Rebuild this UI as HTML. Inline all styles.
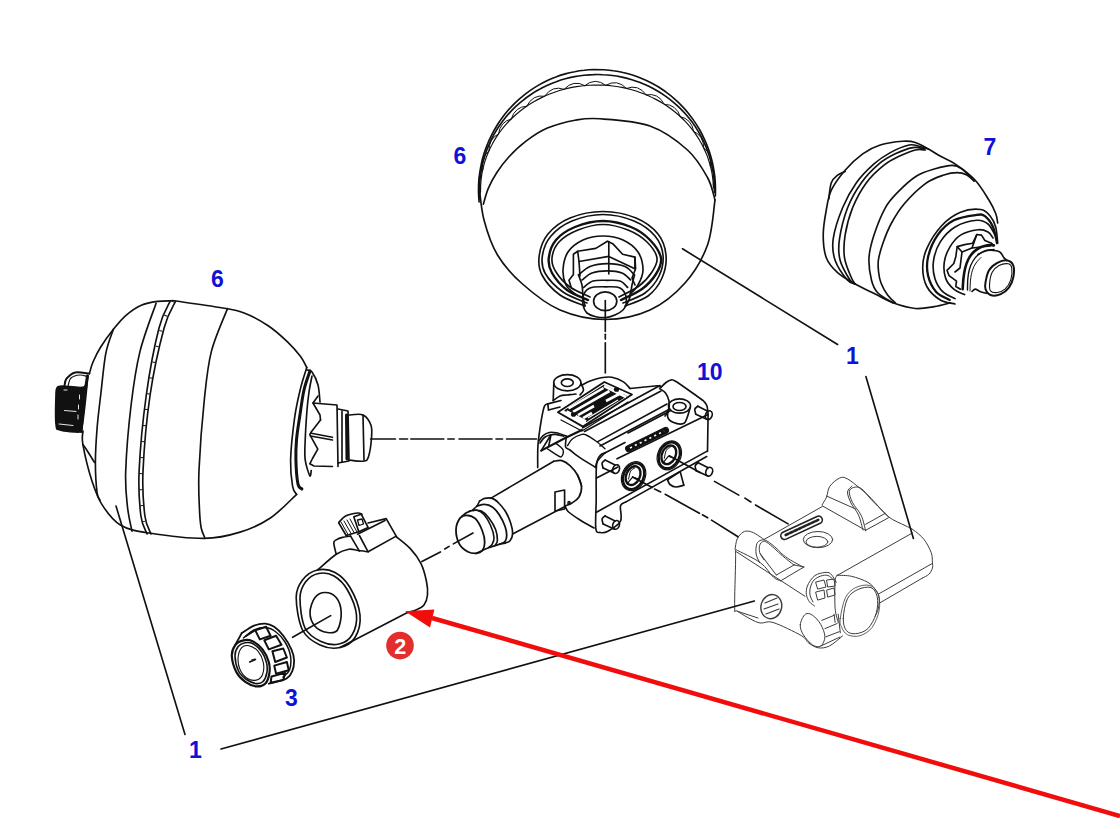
<!DOCTYPE html>
<html><head><meta charset="utf-8"><style>
html,body{margin:0;padding:0;background:#fff;}
body{width:1120px;height:829px;overflow:hidden;position:relative;}
svg{position:absolute;left:0;top:0;}
.lbl{font-family:"Liberation Sans",sans-serif;font-weight:bold;fill:#1010d6;font-size:23px;}
</style></head><body>
<svg width="1120" height="829" viewBox="0 0 1120 829">
<g fill="none" stroke="#111" stroke-width="1.65" stroke-linecap="round" stroke-linejoin="round">
<path d="M715.4 196C715.4 194.4 715.5 189.4 715.4 186.1C715.3 182.8 715.1 179.5 714.7 176.2C714.4 172.9 713.8 169.7 713.2 166.4C712.6 163.2 711.8 160 710.9 156.8C710 153.6 709 150.5 707.8 147.4C706.7 144.3 705.4 141.2 704 138.3C702.6 135.3 701.1 132.4 699.5 129.5C697.8 126.6 696.1 123.8 694.2 121.1C692.4 118.4 690.4 115.8 688.3 113.2C686.3 110.7 684.1 108.2 681.8 105.9C679.6 103.5 677.2 101.2 674.7 99.1C672.3 96.9 669.7 94.8 667.1 92.9C664.5 90.9 661.8 89.1 659 87.3C656.3 85.6 653.4 84 650.5 82.5C647.6 81 644.7 79.6 641.7 78.4C638.7 77.1 635.6 76 632.5 75C629.4 74 626.2 73.2 623.1 72.5C619.9 71.7 616.7 71.1 613.5 70.7C610.3 70.2 607 69.9 603.8 69.7C600.5 69.5 597.3 69.5 594 69.5C590.8 69.6 587.5 69.8 584.3 70.2C581.1 70.5 577.9 71 574.7 71.7C571.5 72.3 568.3 73 565.2 73.9C562.1 74.8 558.9 75.8 555.9 77C552.9 78.1 549.8 79.4 546.9 80.8C544 82.2 541.1 83.7 538.2 85.4C535.4 87 532.7 88.8 530 90.6C527.3 92.5 524.7 94.5 522.2 96.6C519.7 98.6 517.2 100.8 514.9 103.1C512.5 105.4 510.3 107.8 508.1 110.3C506 112.8 503.9 115.3 502 118C500.1 120.6 498.2 123.4 496.5 126.2C494.8 129 493.2 131.8 491.7 134.8C490.2 137.7 488.8 140.7 487.6 143.8C486.3 146.8 485.2 149.9 484.2 153.1C483.2 156.2 482.3 159.4 481.6 162.6C480.9 165.8 480.3 169.1 479.8 172.4C479.3 175.6 479 178.9 478.7 182.2C478.5 185.5 478.5 188.8 478.5 192.1C478.6 195.4 479 200.4 479.1 202" fill="none"/>
<path d="M714.5 192.3C714.4 190.8 714.5 186.1 714.3 183C714.1 179.8 713.8 176.7 713.3 173.6C712.9 170.6 712.3 167.5 711.6 164.4C710.9 161.4 710.1 158.4 709.1 155.4C708.2 152.4 707.1 149.5 705.9 146.6C704.7 143.7 703.4 140.9 702 138.1C700.5 135.3 699 132.6 697.3 129.9C695.7 127.2 693.9 124.6 692.1 122.1C690.2 119.6 688.2 117.1 686.2 114.8C684.1 112.4 681.9 110.1 679.7 107.9C677.4 105.7 675.1 103.6 672.6 101.6C670.2 99.6 667.7 97.7 665.1 95.9C662.5 94.1 659.9 92.4 657.1 90.8C654.4 89.2 651.6 87.7 648.8 86.3C645.9 84.9 643 83.7 640.1 82.5C637.1 81.4 634.1 80.4 631.1 79.5C628 78.6 625 77.8 621.9 77.1C618.8 76.5 615.6 75.9 612.5 75.5C609.3 75.1 606.2 74.8 603 74.7C599.8 74.5 596.6 74.5 593.5 74.6C590.3 74.6 587.1 74.9 584 75.2C580.8 75.6 577.7 76 574.6 76.6C571.5 77.2 568.4 77.9 565.3 78.8C562.3 79.6 559.2 80.6 556.3 81.7C553.3 82.7 550.3 84 547.5 85.3C544.6 86.6 541.8 88 539 89.6C536.2 91.1 533.5 92.7 530.9 94.5C528.3 96.2 525.7 98.1 523.3 100.1C520.8 102 518.4 104.1 516.1 106.2C513.8 108.4 511.6 110.6 509.5 112.9C507.4 115.3 505.3 117.7 503.4 120.2C501.5 122.6 499.7 125.2 498 127.8C496.3 130.5 494.7 133.2 493.2 135.9C491.7 138.7 490.3 141.5 489.1 144.4C487.8 147.2 486.7 150.1 485.7 153.1C484.6 156.1 483.8 159.1 483 162.1C482.2 165.1 481.6 168.2 481.1 171.2C480.5 174.3 480.2 177.4 479.9 180.5C479.6 183.6 479.5 186.8 479.5 189.9C479.5 193 479.8 197.7 479.9 199.2" fill="none"/>
<path d="M713.5 187.9C713.4 186.5 713.2 182.4 712.9 179.7C712.6 176.9 712.2 174.2 711.7 171.5C711.1 168.8 710.5 166.1 709.7 163.5C708.9 160.8 708.1 158.2 707.1 155.6C706.1 153 704.9 150.4 703.7 147.9C702.5 145.4 701.2 142.9 699.7 140.5C698.3 138 696.7 135.7 695.1 133.4C693.5 131 691.7 128.8 689.9 126.6C688 124.4 686.1 122.3 684.1 120.2C682 118.2 679.9 116.2 677.7 114.3C675.5 112.4 673.2 110.6 670.9 108.8C668.5 107.1 666.1 105.4 663.6 103.8C661.1 102.3 658.5 100.8 655.9 99.4C653.2 98 650.5 96.7 647.8 95.5C645.1 94.3 642.3 93.2 639.4 92.2C636.6 91.2 633.7 90.3 630.8 89.5C627.9 88.7 624.9 88 621.9 87.4C618.9 86.8 615.9 86.4 612.9 86C609.9 85.6 606.9 85.3 603.8 85.2C600.8 85 597.7 85 594.7 85C591.6 85.1 588.6 85.2 585.5 85.5C582.5 85.8 579.5 86.2 576.5 86.6C573.5 87.1 570.5 87.7 567.5 88.4C564.6 89.1 561.7 89.9 558.8 90.8C555.9 91.7 553.1 92.7 550.3 93.8C547.5 94.9 544.7 96.1 542 97.4C539.4 98.7 536.7 100.1 534.2 101.6C531.6 103.1 529.1 104.6 526.7 106.3C524.2 108 521.9 109.7 519.6 111.5C517.3 113.4 515.1 115.3 513 117.3C510.9 119.2 508.8 121.3 506.9 123.4C505 125.5 503.1 127.7 501.4 130C499.7 132.2 498 134.6 496.5 136.9C494.9 139.3 493.5 141.7 492.2 144.2C490.8 146.7 489.6 149.2 488.5 151.8C487.4 154.3 486.4 156.9 485.5 159.6C484.6 162.2 483.8 164.9 483.2 167.5C482.5 170.2 482 172.9 481.6 175.7C481.2 178.4 480.9 181.1 480.7 183.9C480.5 186.6 480.6 190.7 480.5 192.1" fill="none" stroke-width="1.2"/>
<path d="M713.4 184.8Q717.4 174.2 710.4 166.0M710.4 166.0Q712.4 154.3 703.8 148.0M703.8 148.0Q703.6 135.6 693.7 131.4M693.7 131.4Q691.4 118.7 680.4 116.7M680.4 116.7Q676.0 104.1 664.4 104.4M664.4 104.4Q658.2 92.3 646.3 94.9M646.3 94.9Q638.3 83.7 626.5 88.4M626.5 88.4Q617.1 78.5 605.8 85.3M605.8 85.3Q595.2 77.0 584.8 85.6M584.8 85.6Q573.4 79.1 564.1 89.3M564.1 89.3Q552.3 84.9 544.6 96.2M544.6 96.2Q532.7 94.1 526.7 106.2M526.7 106.2Q515.2 106.4 511.2 119.0M511.2 119.0Q500.4 121.4 498.4 134.0M498.4 134.0Q488.7 138.6 488.9 150.9M488.9 150.9Q480.5 157.6 482.8 169.1M482.8 169.1Q476.2 177.6 480.5 187.9" stroke-width="1.0"/>
<path d="M483.4 204.1C484.2 201.5 486.1 193.6 488.3 188.4C490.5 183.2 493.3 177.9 496.7 172.7C500.1 167.5 504 162.2 508.8 157C513.6 151.8 519.3 146.2 525.7 141.4C532.1 136.6 539.2 131.6 547.4 128.1C555.6 124.6 566.2 121.8 575 120.2C583.8 118.7 587.5 117.8 600 118.8C612.5 119.7 635.4 120.8 650 126C664.6 131.2 677.9 141.4 687.5 150C697.1 158.6 702.9 169.2 707.5 177.5C712.1 185.8 713.8 196.2 715 200" fill="none"/>
<path d="M479 185C479.8 190.8 480.9 208.3 484 220C487.1 231.7 491.1 244.3 497.5 255C503.9 265.7 512.1 274.8 522.5 284C532.9 293.2 546.2 304.1 560 310C573.8 315.9 590 319.5 605 319.5C620 319.5 636.7 316.1 650 310C663.3 303.9 675.4 293.8 685 283C694.6 272.2 702.5 258.8 707.5 245C712.5 231.2 713.8 207.5 715 200" fill="none"/>
<path d="M585 306C580.8 304.2 567.2 300.2 560 295C552.8 289.8 545.5 281.7 542 275C538.5 268.3 538.3 261.8 539.3 255C540.3 248.2 542.9 240.2 548 234C553.1 227.8 560.8 221.8 570 218C579.2 214.2 592 211.5 603 211.5C614 211.5 626.8 214.2 636 218C645.2 221.8 653 227.8 658 234C663 240.2 665.3 247.7 666 255C666.7 262.3 665 271.2 662 278C659 284.8 654.2 291.3 648 296C641.8 300.7 628.8 304.3 625 306" fill="none"/>
<path d="M587 303C583 301.2 570 297 563 292C556 287 548.4 279.2 545 273C541.6 266.8 541.5 261.2 542.5 255C543.5 248.8 546.1 241.7 551 236C555.9 230.3 563.3 224.6 572 221C580.7 217.4 592.7 214.5 603 214.5C613.3 214.5 625.3 217.4 634 221C642.7 224.6 650.2 230.3 655 236C659.8 241.7 662.3 248.3 663 255C663.7 261.7 662 269.7 659 276C656 282.3 651 288.5 645 293C639 297.5 626.7 301.3 623 303" fill="none"/>
<path d="M588 300C584.5 298.3 573 294.5 567 290C561 285.5 555 278.3 552 273C549 267.7 548.1 263.5 548.8 258C549.4 252.5 551.6 245.2 556 240C560.4 234.8 567.2 230.2 575 227C582.8 223.8 593.7 221 603 221C612.3 221 623.2 223.8 631 227C638.8 230.2 645 234.8 650 240C655 245.2 660 252.3 661 258C662 263.7 659.2 268.8 656 274C652.8 279.2 647.8 284.7 642 289C636.2 293.3 624.5 298.2 621 300" fill="none" stroke-width="2.4"/>
<path d="M590 297C586.7 295.3 575.7 291.2 570 287C564.3 282.8 559 276.8 556 272C553 267.2 551.5 263 552 258C552.5 253 554.7 246.7 559 242C563.3 237.3 570.7 232.9 578 230C585.3 227.1 594.7 224.5 603 224.5C611.3 224.5 620.7 227.1 628 230C635.3 232.9 642.2 237.3 647 242C651.8 246.7 656.2 253 657 258C657.8 263 655 267.3 652 272C649 276.7 644.5 281.8 639 286C633.5 290.2 622.3 295.2 619 297" fill="none"/>
<path d="M575 294C573.5 292.5 568 289 566 285C564 281 562.7 275.5 563 270C563.3 264.5 564.7 257 568 252C571.3 247 577.2 242.7 583 240C588.8 237.3 596.3 236 603 236C609.7 236 617.2 237.3 623 240C628.8 242.7 634.7 247 638 252C641.3 257 643 264.5 643 270C643 275.5 640.2 281 638 285C635.8 289 631.3 292.5 630 294" fill="none"/>
<path d="M571.2 287.5 L569 280.3 L573.4 274.5 L573.4 254.2 L577.7 251.3 L595.8 248.4 L607.4 241.2 L613.2 244.1 L622.6 254.2 L634.9 257.1 L635.6 268.7 L632 278 L635 285" fill="none"/>
<path d="M579 261.5 L608.8 256.4 L634.9 268.7" fill="none"/>
<path d="M577.7 251.3 L579 261.5 L580 276" fill="none"/>
<path d="M608.8 241.5 L608.8 274" fill="none"/>
<path d="M634.9 257.1 L634.9 268.7" fill="none"/>
<path d="M578.5 275C580.4 273.6 585.2 268.4 590 266.5C594.8 264.6 601.6 263.6 607.4 263.6C613.2 263.6 620.5 264.6 625 266.5C629.5 268.4 632.9 273.6 634.5 275" fill="none"/>
<path d="M582 280C583.7 278.8 587.8 274.5 592 273C596.2 271.5 602.4 270.9 607.4 270.9C612.4 270.9 618.1 271.5 622 273C625.9 274.5 629.2 278.8 630.6 280" fill="none"/>
<path d="M583.5 287.5C585.1 286.4 589 282.2 593 281C597 279.8 602.9 280.3 607.4 280.3C611.9 280.3 616.6 279.8 620 281C623.4 282.2 626.4 286.4 627.7 287.5" fill="none"/>
<path d="M578.5 275C579.1 276.7 581.2 281.3 582 285C582.8 288.7 582.5 293.5 583 297C583.5 300.5 584.7 304.5 585 306" fill="none"/>
<path d="M634.5 275C634.1 276.7 632.8 281.3 632 285C631.2 288.7 631 293.5 630 297C629 300.5 626.7 304.5 626 306" fill="none"/>
<path d="M582.8 297.7C583.3 293.5 586.1 289.8 590 288C593.9 286.2 601 286.8 606 286.8C611 286.8 616.6 286.2 620 288C623.4 289.8 625.7 294 626.2 297.7C626.7 301.4 626.4 306.7 623 310C619.6 313.3 612 317.1 606 317.6C600 318.1 590.9 316.3 587 313C583.1 309.7 582.3 301.9 582.8 297.7Z" fill="none"/>
<ellipse cx="605.2" cy="301.3" rx="11.6" ry="9.4" fill="none"/>
<path d="M950.5 302.8C947.8 303.4 940.1 305.7 934.2 306.6C928.4 307.6 922.3 309.1 915.4 308.5C908.5 307.9 899.5 305.2 892.8 302.8C886.1 300.4 881.5 297.2 875.2 294.1C868.9 291 861.5 287.6 855.2 284C848.9 280.4 842.4 277.1 837.6 272.7C832.8 268.3 828.7 264 826.3 257.7C823.9 251.4 823.2 243 823.2 235.1C823.2 227.2 824.9 217.5 826.3 210C827.6 202.5 828.2 196.8 831.3 190.2C834.4 183.6 839.9 176.3 845.1 170.2C850.3 164.1 856.9 158 862.7 153.8C868.6 149.6 873.5 147.1 880.2 145C886.9 142.9 896.9 141.7 902.8 141.3C908.7 140.9 911.2 141.2 915.4 142.5C919.6 143.8 923.8 146.5 928 148.8C932.2 151.1 936 153.8 940.5 156.3C945 158.8 949.2 160 955 163.9C960.8 167.8 969.4 174 975 180C980.6 186 985.4 194.4 988.9 200C992.4 205.6 994.2 209.7 995.7 213.5C997.2 217.3 997.4 221.4 997.7 223" fill="none"/>
<path d="M828.8 199C829.2 196.3 829.8 186.7 831.3 182.7C832.8 178.7 835.3 177.1 837.6 175.2C839.9 173.3 843.9 172 845.1 171.4" fill="none"/>
<path d="M928 148.8C926.5 148.4 922.2 146.9 919.1 146.3C916 145.7 913.9 143.9 909.1 145C904.3 146.1 896.1 149.4 890.3 152.6C884.4 155.8 879.6 158.9 874 163.9C868.4 168.9 861.6 175.4 856.4 182.7C851.2 190 846.5 198.4 842.6 207.8C838.7 217.2 834.5 230.2 833.2 238.9C832 247.6 832.7 253.3 835.1 260.2C837.5 267.1 844.2 276.3 847.6 280.3C851 284.3 853.9 283.4 855.2 284" fill="none"/>
<path d="M924.2 148.8C922.3 148.6 917.7 146.8 912.9 147.6C908.1 148.4 900.9 151.1 895.3 153.8C889.6 156.5 884.6 159.1 879 163.9C873.4 168.7 866.6 175.4 861.4 182.7C856.2 190 851.2 198.4 847.6 207.8C844 217.2 840.8 230.2 839.5 238.9C838.2 247.6 838.3 253.3 840.1 260.2C841.9 267.1 847.6 276.3 850.1 280.3C852.6 284.3 854.4 283.4 855.2 284" fill="none"/>
<path d="M925.4 150C923.7 150 919.8 148.9 915.4 150C911 151.1 904.3 153.8 899.1 156.3C893.9 158.8 889.5 160.7 884 165.1C878.5 169.5 871.6 175.6 866.4 182.7C861.2 189.8 856.1 199.1 852.6 207.8C849.1 216.5 846.5 226.8 845.1 235.1C843.8 243.4 843.5 250.6 844.5 257.7C845.5 264.8 849.6 273.4 851.4 277.8C853.2 282.2 854.6 283 855.2 284" fill="none"/>
<path d="M974.1 181C972.1 179 965.6 171.6 962 169C958.4 166.4 957 165.3 952.4 165.3C947.8 165.3 940.3 167.2 934.3 169C928.3 170.8 922.2 172.4 916.2 176.2C910.2 180 903.2 186.6 898.1 191.9C893 197.2 889.3 200.6 885.3 207.8C881.3 215 876.7 226.8 874 235.1C871.3 243.4 869.4 250.2 869 257.7C868.6 265.2 870 274.4 871.5 280.3C873 286.2 874.2 289.1 877.7 292.8C881.2 296.6 890.3 301.1 892.8 302.8" fill="none"/>
<path d="M974.1 181C972.9 180 969.7 176.4 966.9 175C964.1 173.6 961 172.6 957.2 172.6C953.4 172.6 949.1 173.2 943.9 175C938.7 176.8 932.4 178.6 925.8 183.4C919.2 188.2 909.9 197.2 904.1 204C898.3 210.8 894.5 217.5 891 224C887.5 230.5 885.1 237 883 243C880.9 249 879.1 255.2 878.4 260C877.7 264.8 878.2 268.2 878.6 272C879 275.8 879.5 279.1 881 283C882.5 286.9 885.4 292 887.8 295.3C890.2 298.6 894 301.6 895.3 302.8" fill="none"/>
<path d="M955 304C952.5 303.3 945 302.9 940.3 300C935.6 297.1 929.7 291.9 926.8 286.5C923.9 281.1 922.7 273.9 922.7 267.6C922.7 261.3 923.6 255.6 926.8 248.6C929.9 241.6 936 231.8 941.6 225.7C947.2 219.6 954 214.9 960.5 212.2C967 209.5 975.8 208.8 980.8 209.5C985.8 210.2 987.8 213.3 990.3 216.2C992.8 219.1 994.5 222.5 995.7 227C996.9 231.5 997.4 240.5 997.7 243.2" fill="none"/>
<path d="M949.7 300C947.5 298.6 939.8 295.9 936.2 291.9C932.6 287.8 929.5 281.5 928.1 275.7C926.8 269.9 926.5 263.6 928.1 256.8C929.7 250 933.3 241.2 937.6 235.1C941.9 229 947.3 223.7 953.8 220.3C960.3 216.9 971.6 215.6 976.8 214.9C982 214.2 982.2 214.2 984.9 216.2C987.6 218.2 991 222.5 993 227C995 231.5 996.3 240.5 997 243.2" fill="none" stroke-width="2.3"/>
<path d="M955.1 298.6C953.1 297.5 946.4 295.3 943 291.9C939.6 288.5 936.5 283.6 934.9 278.4C933.3 273.2 932.6 266.9 933.5 260.8C934.4 254.7 936.7 247.5 940.3 241.9C943.9 236.3 949 230.6 955.1 227C961.2 223.4 971.3 220.8 976.8 220.3C982.3 219.8 985 221.6 988 224C991 226.4 993.8 233.2 995 235" fill="none"/>
<path d="M964.6 294.6C962.8 293.7 956.9 291.9 953.8 289.2C950.6 286.5 947.3 282.9 945.7 278.4C944.1 273.9 943.6 267.4 944.3 262.2C945 257 947 251.8 949.7 247.3C952.4 242.8 955.8 238 960.5 235.1C965.2 232.2 973.5 230.2 978.1 229.7C982.7 229.2 985.5 230.6 988 232C990.5 233.4 992.2 237 993 238" fill="none"/>
<path d="M960.5 289.2 L955.8 286.5 L956.5 281.1 L949.1 275.7 L947 270.3 L953.8 263.5 L955.8 256.8 L957.2 246.6 L964.6 244.6 L972.7 243.2 L976.8 234.5 L981.5 235.1 L984.9 240.5 L991.6 243.2 L993.6 245.9" fill="none"/>
<path d="M957.2 246.6 L962 252 L972 248 L976.8 234.5" fill="none"/>
<path d="M962 252 L960 268 L955 272" fill="none"/>
<path d="M972 248 L990 246" fill="none"/>
<path d="M962.7 289.1C962.8 287.2 963.1 281.5 963.5 278C963.9 274.5 964.4 271.2 965.2 268C966 264.8 967.1 261.7 968.5 259C969.9 256.3 971.7 253.9 973.6 252C975.5 250.1 977.7 248.6 980 247.5C982.3 246.4 984.9 245.6 987.2 245.2C989.5 244.8 992.8 245.2 993.9 245.2" fill="none" stroke-width="2.6"/>
<path d="M967.5 290C967.5 288.2 967.5 282.5 967.8 279C968.1 275.5 968.6 272 969.5 269C970.4 266 971.5 263.4 973 261C974.5 258.6 976.3 256.2 978.5 254.5C980.7 252.8 983.4 251.3 986 250.5C988.6 249.7 992.7 249.7 994 249.5" fill="none" stroke-width="1.4"/>
<path d="M970 291C970.1 289.2 970.1 283.5 970.5 280C970.9 276.5 971.6 272.8 972.5 270C973.4 267.2 974.6 265.1 976 263C977.4 260.9 980.2 258.4 981 257.5" fill="none" stroke-width="1.0"/>
<path d="M977.9 254.5C978.9 254 981.9 252.2 984 251.5C986.1 250.8 987.9 250.2 990.5 250.3C993.1 250.4 997.5 250.7 999.8 252C1002 253.3 1002.8 256.5 1004 257.9C1005.2 259.3 1006.5 260.1 1007 260.5" fill="none"/>
<path d="M972 291.5C972.5 291.1 974 289.1 975.3 289.1C976.6 289.1 978.2 290.8 980 291.5C981.8 292.2 985.2 293 986.3 293.3" fill="none"/>
<path d="M985.5 282.4C986.1 279.3 986.9 273.8 988.9 270.5C990.9 267.2 994.2 264.6 997.3 262.9C1000.4 261.2 1004.7 260 1007.4 260.4C1010.1 260.8 1012.3 262.7 1013.3 265.5C1014.3 268.3 1014 273.7 1013.3 277.3C1012.6 280.9 1011.2 284.6 1009.1 287.4C1007 290.2 1003.8 292.9 1000.7 294.2C997.6 295.5 993 295.9 990.5 295C988 294.1 986.3 291.2 985.5 289.1C984.7 287 984.9 285.5 985.5 282.4Z" fill="none" stroke-width="2"/>
<path d="M989.7 282.4C990 279.3 990.7 275 992.2 272.2C993.8 269.4 996.3 266.9 999 265.5C1001.7 264.1 1006.2 263.4 1008.3 263.8C1010.4 264.2 1011.3 265.3 1011.7 268C1012.1 270.7 1011.9 276.3 1010.8 279.8C1009.7 283.3 1007.1 287 1004.9 289.1C1002.6 291.2 999.7 292.2 997.3 292.5C994.9 292.8 991.8 292.5 990.5 290.8C989.2 289.1 989.4 285.5 989.7 282.4Z" fill="none" stroke-width="1.1"/>
<path d="M89.4 373.5C90 371.6 91.1 366.4 93 362C94.9 357.6 97.3 352.4 100.7 347C104.1 341.6 109.2 334.6 113.4 329.3C117.6 324 121.3 319.3 126 315.3C130.7 311.3 136 307.5 141.3 305.2C146.6 302.9 152.6 302.1 157.7 301.4C162.8 300.7 169.4 300.9 171.7 300.8" fill="none"/>
<path d="M172.1 300.5C180.1 301.7 208 305.4 220 307.5C232 309.6 236.1 309.9 244.1 312.9C252.1 315.9 261 320.9 268.2 325.7C275.4 330.5 282.1 336.7 287.5 341.8C292.9 346.9 297.2 352 300.4 356.3C303.6 360.6 305.7 365.6 306.8 367.5" fill="none"/>
<path d="M83 431C83 433.3 81.4 436.4 82.9 444.6C84.4 452.8 88.5 470.3 91.8 480.4C95.1 490.5 97.7 498 102.5 505.4C107.3 512.8 112.7 520.4 120.4 525C128.1 529.6 134.9 530.8 148.9 533C162.9 535.2 189.1 538.5 204.3 538.4C219.5 538.2 229.1 535.5 240 532.1C250.9 528.8 260.6 524.6 270 518.3C279.4 512 292.2 498.4 296.6 494.4" fill="none"/>
<path d="M82.9 444.6C83.8 445.8 86.1 449 88 452C89.9 455 93.4 460.8 94.5 462.5" fill="none"/>
<path d="M113.4 329.3C112.1 333.3 107.9 342.4 105.8 353.4C103.7 364.3 102.2 382.6 100.7 395C99.2 407.4 98 416.8 97.1 428C96.2 439.2 95.4 451.7 95.4 462.5C95.4 473.3 96.3 486.6 97.1 492.9C97.9 499.1 99.5 498.8 100 500" fill="none"/>
<path d="M156.1 303.2C153.4 311.2 144.2 334.4 140 351.4C135.8 368.4 133.5 385 131.1 405C128.7 425 126.3 454.4 125.7 471.4C125.1 488.4 126.5 497.1 127.5 507.1C128.6 517.1 131.2 527.2 132 531.2" fill="none"/>
<path d="M170.4 300.8C168.5 305.3 163 312.3 159 328C155 343.7 149.6 371.1 146.3 395C143 418.9 140 451.2 139.1 471.4C138.2 491.6 139.6 505.6 140.9 516C142.2 526.4 146.1 530.9 147.1 533.9" fill="none"/>
<path d="M173 301.1C171.1 305.6 165.6 312.4 161.5 328C157.4 343.6 151.6 371.1 148.2 395C144.8 418.9 141.9 451.2 141 471.4C140.1 491.6 141.6 505.6 142.9 516C144.2 526.4 148 531 149 534" fill="none" stroke-width="3" stroke-dasharray="1 15" stroke-linecap="butt"/>
<path d="M175.5 301.4C173.6 305.8 168.3 312.4 164.1 328C159.9 343.6 153.6 371.1 150.1 395C146.6 418.9 143.9 451.2 143 471.4C142.1 491.6 143.6 505.6 144.9 516C146.2 526.4 150 531 151 534" fill="none"/>
<path d="M227.5 308.6C224.8 315.7 215.3 336.2 211.4 351.4C207.5 366.6 206.4 380.2 204.3 400C202.2 419.8 199.8 451.7 199 470C198.2 488.3 199.1 500.3 199.5 510C199.9 519.7 200.3 523.3 201.2 528C202.1 532.7 204.3 536.3 204.9 538" fill="none"/>
<path d="M57 388C58 386.5 57.5 386.2 62 386C66.5 385.8 79.8 388.7 84 387C88.2 385.3 87.2 374.7 87.5 376C87.8 377.3 86.9 386.3 86 395C85.1 403.7 83 421.8 82 428C81 434.2 83.7 431.7 80 432C76.3 432.3 64 431.3 60 430C56 428.7 56.7 429.8 56 424C55.3 418.2 55.8 401 56 395C56.2 389 56 389.5 57 388Z" fill="#111"/>
<path d="M64.5 386C64.8 384.8 64.7 381 66.5 378.7C68.3 376.4 71.5 373.2 75.3 372.4C79.1 371.6 87 373.5 89.3 373.7" fill="none" stroke-width="2"/>
<path d="M87.5 376C86.9 380 85.1 390.8 84 400C82.9 409.2 81.5 425.8 81 431" fill="none" stroke-width="3"/>
<path d="M68 386C68.5 384.7 69 379.8 71 378C73 376.2 77.3 375.2 80 375C82.7 374.8 85.8 376.2 87 376.5" fill="none" stroke-width="1.2"/>
<g stroke="#fff" stroke-width="0.9">
<path d="M64.5 410.5 L76 411.5" fill="none"/>
<path d="M59 424 L73 425.5" fill="none"/>
<path d="M64 390 L67 390" fill="none"/>
<path d="M79.5 395 L79.5 399" fill="none"/>
<path d="M78.5 405 L78.5 409" fill="none"/>
<path d="M78 415 L78 419" fill="none"/>
</g>
<path d="M306.8 367.5C305.7 371.1 302.4 380.5 300.4 388.9C298.4 397.3 296.2 406.1 294.6 417.9C293 429.7 290.9 448.4 290.6 459.8C290.3 471.2 291.6 480.6 292.6 486.4C293.6 492.2 295.9 493.1 296.6 494.4" fill="none"/>
<path d="M310 371C309 374.2 305.8 382.2 304 390C302.2 397.8 300.8 409.7 299.5 418C298.2 426.3 297.1 433 296.5 440C295.9 447 295.7 452.5 295.9 459.8C296.1 467.1 296.9 478.8 297.9 483.7C298.9 488.6 301.2 488.1 301.9 489" fill="none" stroke-width="3"/>
<path d="M312 376C311.5 378.7 309.8 386.3 309 392C308.2 397.7 307.6 402 307 410C306.4 418 305.5 431.7 305.2 440C304.9 448.3 304.4 453.8 305.2 459.8C306 465.8 308.8 474 309.8 475.8C310.8 477.6 311 471.4 311.2 470.5" fill="none"/>
<path d="M307 370C307.8 370.3 310.2 369.5 312 372C313.8 374.5 316.7 380 318 385C319.3 390 319.7 399.2 320 402" fill="none"/>
<path d="M320.5 420 L311.2 432 L309.8 434.6 L317.8 449.2 L312.5 458.5 L309.8 463.8 L314 466 L332.4 466.5" fill="none"/>
<path d="M318 396 L313 403 L320 415 L320.5 420" fill="none"/>
<path d="M313 403 L337 405 L338 466.5" fill="none"/>
<path d="M311.2 433.3 L332.4 437.3" fill="none"/>
<path d="M310.5 436 L332.4 440" fill="none"/>
<path d="M338 409 L348 411 L349 461 L338 463" fill="none"/>
<path d="M342 411 L342 462" fill="none"/>
<path d="M349 415C351.3 415 359.4 413.3 363 415C366.6 416.7 369.5 421.2 370.9 425C372.3 428.8 371.9 432.6 371.5 438C371.1 443.4 369.7 453.3 368.3 457.2C366.9 461.1 366.2 460.7 363 461.2C359.8 461.7 351.3 460.2 349 460" fill="none"/>
<path d="M346.5 415 L347 459" fill="none" stroke-width="3"/>
<path d="M363 415 L364 460" fill="none"/>
<path d="M547.8 403.9C547.2 404.2 545.6 403.3 544.5 406C543.4 408.7 542.4 413.6 541.3 420.1C540.2 426.6 538.6 437.1 538 445C537.4 452.9 537.8 463.8 537.7 467.6" fill="none"/>
<ellipse cx="567.3" cy="382.7" rx="13.6" ry="8.1" fill="none"/>
<ellipse cx="567.3" cy="382.7" rx="6" ry="3.8" fill="none"/>
<path d="M553.8 383.2 L553.2 400.6" fill="none"/>
<path d="M553.2 400.6C554.3 399.8 557.7 396.9 560 396C562.3 395.1 564.3 395.3 567 395C569.7 394.7 574.5 394.2 576 394" fill="none"/>
<path d="M580.9 383C581.3 384.2 583.6 388 583.5 390C583.4 392 580.6 394.2 580 395" fill="none"/>
<path d="M581.5 385.4C582.9 384.7 586.9 382.4 590.1 381.1C593.4 379.8 597.4 378.4 601 377.8C604.6 377.2 608.1 376.6 611.9 377.3C615.6 378 620.5 380 623.5 381.9C626.5 383.8 628.9 387.4 630 388.5" fill="none"/>
<path d="M630 388.5 L657.3 385.8 L661.2 387.1" fill="none"/>
<path d="M661.2 387.1C662 386.3 664.4 383.7 666 382.5C667.6 381.3 669.3 380.2 671 380C672.7 379.8 671.3 378.6 676 381.5C680.7 384.4 694.3 394.3 699 397.6C703.7 400.9 702.7 400.1 704 401.5C705.3 402.9 706.3 403.8 707 406C707.7 408.2 707.9 413.1 708.1 414.5" fill="none"/>
<path d="M708.1 414.5 L707.5 451.4" fill="none"/>
<path d="M547.8 403.9 L561 400.5" fill="none"/>
<path d="M548.5 410 L560 407" fill="none"/>
<path d="M547.8 403.9 L548.5 410" fill="none"/>
<path d="M557.9 412.3 L604.3 382 L632 394.5 L582.9 426.6Z" fill="none" stroke-width="1.8"/>
<path d="M565 410.5 L604 385.2 L626 396 L586 421.5Z" fill="#111" stroke-width="1.2"/>
<g stroke="#fff" stroke-width="2.6" stroke-linecap="butt">
<path d="M568.5 408.5 L603.5 388" fill="none"/>
<path d="M573 411.8 L609.5 391" fill="none"/>
<path d="M578 415.2 L594 406" fill="none"/>
<path d="M583 418.2 L592 413" fill="none"/>
<path d="M606 401 L623 392" fill="none"/>
<path d="M566.5 411.5 L586 421.5" fill="none"/>
<path d="M604 386 L626 397" fill="none"/>
</g>
<g stroke="#fff" stroke-width="1.2" stroke-linecap="butt">
<path d="M588 418 L618 400" fill="none"/>
</g>
<ellipse cx="573.5" cy="414.5" rx="1.8" ry="1.5" fill="#111"/>
<ellipse cx="616.5" cy="389.5" rx="1.8" ry="1.5" fill="#111"/>
<path d="M561 420 L582 431 L628 402" fill="none" stroke-width="1.3"/>
<path d="M582.7 427.8 L660 385.5" fill="none"/>
<path d="M584.5 431.5 L661 391" fill="none"/>
<path d="M597.8 441.6 L667 404" fill="none"/>
<path d="M600 446 L668 410" fill="none"/>
<path d="M617 458.8 L708.1 414.5" fill="none"/>
<path d="M628 433 L670 411" fill="none"/>
<g transform="rotate(-26.2 647.1 439.5)"><rect x="623.5" y="436.6" width="47.2" height="5.8" rx="2.9" fill="#111" stroke="#111" stroke-width="1"/><path d="M628 439.5h38" stroke="#fff" stroke-width="1.6" stroke-dasharray="2.2 3.2" stroke-linecap="butt"/></g>
<path d="M659.6 388.5C660.6 389.2 663.9 390.9 665.5 393C667.1 395.1 668.5 398.2 669 401C669.5 403.8 669.3 407.5 668.6 410C667.9 412.5 665.6 415 665 416" fill="none"/>
<ellipse cx="679.5" cy="406" rx="11" ry="7.2" fill="none"/>
<ellipse cx="679.5" cy="406.5" rx="6.5" ry="4" fill="none"/>
<path d="M669 407C668.8 408.7 667 414.4 667.7 417C668.4 419.6 670.4 421.2 673 422.3C675.6 423.4 681 424.5 683.4 423.6C685.8 422.7 686.2 419.7 687.3 417.1C688.4 414.5 689.5 409.5 690 408" fill="none"/>
<path d="M605.3 452.7C604.5 453.1 601.8 453.1 600.3 455.2C598.8 457.3 597.2 457.8 596.5 465.3C595.8 472.8 596.3 489.4 596.2 500C596.1 510.6 595.1 523.3 595.8 528.7C596.5 534.1 598.3 532.1 600.3 532.5C602.3 532.9 604.5 533.1 607.9 531.2C611.3 529.3 618.4 525.3 620.5 521.1C622.6 516.9 619.6 509.1 620.5 505.9C621.4 502.7 624.8 502.7 625.6 502.1" fill="none"/>
<path d="M596.5 512.2 L706.7 451.4" fill="none"/>
<path d="M625.6 502.1 L706.7 456.5" fill="none"/>
<path d="M596.5 478 L618 467" fill="none"/>
<path d="M605.3 452.7 L625 442.5" fill="none"/>
<path d="M667.5 479.7 L680.2 471.6 L683.8 485.2" fill="none"/>
<path d="M667.5 479.7C667.9 480.5 668.6 483.3 670 484.5C671.4 485.7 673.7 486.9 676 487C678.3 487.1 682.5 485.5 683.8 485.2" fill="none"/>
<ellipse cx="633.6" cy="476.1" rx="11.5" ry="15" fill="none" stroke-width="1.2" transform="rotate(25 633.6 476.1)"/>
<ellipse cx="633.6" cy="476.1" rx="10" ry="13.5" fill="none" stroke-width="2.4" transform="rotate(25 633.6 476.1)"/>
<ellipse cx="633.1" cy="475.6" rx="6.8" ry="9.8" fill="none" stroke-width="2.4" transform="rotate(25 633.1 475.6)"/>
<path d="M632.6 477.1 L627.6 483.1" fill="none" stroke-width="1.2"/>
<path d="M632.6 477.1 L638.6 479.1" fill="none" stroke-width="1.2"/>
<path d="M628.6 479.1C628.9 477.8 629.6 472.9 630.6 471.1C631.6 469.3 633.9 468.6 634.6 468.1" fill="none" stroke-width="1"/>
<ellipse cx="669.3" cy="455.3" rx="11.5" ry="15" fill="none" stroke-width="1.2" transform="rotate(25 669.3 455.3)"/>
<ellipse cx="669.3" cy="455.3" rx="10" ry="13.5" fill="none" stroke-width="2.4" transform="rotate(25 669.3 455.3)"/>
<ellipse cx="668.8" cy="454.8" rx="6.8" ry="9.8" fill="none" stroke-width="2.4" transform="rotate(25 668.8 454.8)"/>
<path d="M668.3 456.3 L663.3 462.3" fill="none" stroke-width="1.2"/>
<path d="M668.3 456.3 L674.3 458.3" fill="none" stroke-width="1.2"/>
<path d="M664.3 458.3C664.6 457 665.3 452.1 666.3 450.3C667.3 448.5 669.6 447.8 670.3 447.3" fill="none" stroke-width="1"/>
<path d="M697.8 406.2 L707.8 411.2" fill="none"/>
<path d="M695.8 414.2 L706.8 419.2" fill="none"/>
<path d="M697.8 406.2C697.3 406.7 695.1 407.9 694.8 409.2C694.5 410.5 695.6 413.4 695.8 414.2" fill="none"/>
<ellipse cx="708.8" cy="415.2" rx="3.3" ry="4.5" fill="none" transform="rotate(20 708.8 415.2)"/>
<path d="M698.2 462.7 L708.2 467.7" fill="none"/>
<path d="M696.2 470.7 L707.2 475.7" fill="none"/>
<path d="M698.2 462.7C697.7 463.2 695.5 464.4 695.2 465.7C694.9 467 696 469.9 696.2 470.7" fill="none"/>
<ellipse cx="709.2" cy="471.7" rx="3.3" ry="4.5" fill="none" transform="rotate(20 709.2 471.7)"/>
<path d="M605.1 460.1 L615.1 465.1" fill="none"/>
<path d="M603.1 468.1 L614.1 473.1" fill="none"/>
<path d="M605.1 460.1C604.6 460.6 602.4 461.8 602.1 463.1C601.8 464.4 602.9 467.3 603.1 468.1" fill="none"/>
<ellipse cx="616.1" cy="469.1" rx="3.3" ry="4.5" fill="none" transform="rotate(20 616.1 469.1)"/>
<path d="M605.1 515.9 L615.1 520.9" fill="none"/>
<path d="M603.1 523.9 L614.1 528.9" fill="none"/>
<path d="M605.1 515.9C604.6 516.4 602.4 517.6 602.1 518.9C601.8 520.2 602.9 523.1 603.1 523.9" fill="none"/>
<ellipse cx="616.1" cy="524.9" rx="3.3" ry="4.5" fill="none" transform="rotate(20 616.1 524.9)"/>
<path d="M565 506C565.6 507 566.1 509.7 568.6 512C571.1 514.3 575.8 517.3 580 520C584.2 522.7 591.7 526.7 594 528" fill="none"/>
<path d="M538.8 441.2C539.5 440.3 541.3 437.1 543.1 435.6C544.9 434.1 547.2 433 549.4 432.5C551.6 432 553.6 432.3 556.2 432.8C558.9 433.3 563.1 434.9 565 435.6C566.9 436.3 567.1 436.7 567.5 436.9" fill="none" stroke-width="1.6"/>
<path d="M540 443.1C540.7 442.2 542.7 438.9 544.4 437.5C546.1 436.1 548.1 435.5 550 435C551.9 434.5 553.3 434.2 555.6 434.4C557.9 434.6 562.4 435.9 563.8 436.2" fill="none"/>
<path d="M541.2 450.6 L551 434.8 L548.8 445.6" fill="none"/>
<path d="M541.2 450.6 L566.2 437.5 L581.9 430" fill="none" stroke-width="2.2"/>
<path d="M547.5 448.8C548.8 449.6 552.7 452.4 555 453.8C557.3 455.1 559.9 457.5 561.2 456.9C562.6 456.3 564 452.3 563.1 450C562.2 447.7 556.9 444.2 555.6 443.1" fill="none" stroke-width="1.4"/>
<path d="M566.2 438.1C566.1 439.6 565 444.9 565.6 446.9C566.2 448.9 567.8 448.3 570 450C572.2 451.7 574.5 454 578.8 456.9C583 459.8 592.8 465.7 595.6 467.5" fill="none" stroke-width="1.6"/>
<path d="M567.5 445.6C568.3 444.5 570.1 440.6 572.5 438.8C574.9 436.9 579.6 435 581.9 434.4C584.2 433.8 583.9 433.9 586.2 435C588.6 436.1 593.1 439 596.2 441.2C599.4 443.5 603.5 447.5 605 448.8" fill="none" stroke-width="1.4"/>
<path d="M553.8 461.2C555.1 461.1 559.2 459.9 561.9 460.6C564.6 461.3 567.4 463.2 570 465.6C572.6 468 575.6 471.6 577.5 475C579.4 478.4 580.8 484.2 581.5 486" fill="none"/>
<path d="M595.6 467.5C595.9 466.4 595.9 463.5 597.5 461C599.1 458.5 603.8 454.1 605 452.7" fill="none"/>
<path d="M456 529.7C456.1 525.3 458.4 520.3 460.2 517.9C462 515.5 464.5 515.2 467 515.3C469.5 515.4 472.9 516.2 475.4 518.7C477.9 521.2 480.6 526.5 482.2 530.5C483.8 534.5 484.7 539 484.7 542.4C484.7 545.8 483.6 549 482.2 550.8C480.8 552.6 478.7 553.1 476.3 553.3C473.9 553.4 470.6 553.2 467.8 551.7C465 550.2 461.4 547.8 459.4 544.1C457.4 540.4 455.9 534.1 456 529.7Z" fill="none" stroke-width="1.8"/>
<path d="M462 516.5C462.7 515.9 464.6 513.9 466 513C467.4 512.1 469.6 511.4 470.3 511.1" fill="none" stroke-width="1.8"/>
<path d="M469.5 511.1C470.8 511 474.7 509.7 477.1 510.3C479.5 510.9 481.6 512 483.9 514.5C486.1 517 488.9 521.7 490.6 525.5C492.3 529.3 493.7 534.2 494 537.3C494.3 540.4 493.2 542.4 492.3 544.1C491.4 545.8 489.5 546.9 488.9 547.4" fill="none" stroke-width="1.6"/>
<path d="M472.9 510.3C474.3 510.4 478.6 509.8 481.3 511.1C484 512.4 486.5 514.8 488.9 517.9C491.3 521 494.3 525.9 495.7 529.7C497.1 533.5 497.5 538 497.4 540.7C497.2 543.4 495.2 544.9 494.8 545.7" fill="none"/>
<path d="M477.1 506C478.4 505.7 482.2 504.2 484.7 504.4C487.2 504.5 489.9 505.2 492.3 506.9C494.7 508.6 497 511.3 499.1 514.5C501.2 517.7 503.7 522.8 505 526.3C506.3 529.8 506.7 533.1 506.7 535.6C506.7 538.1 506.1 540.1 505 541.5C503.9 542.9 500.8 543.7 499.9 544.1" fill="none" stroke-width="1.8"/>
<path d="M479.6 501C480.5 500.6 482.6 498.8 484.7 498.4C486.8 498 489.9 497.5 492.3 498.4C494.7 499.2 496.9 501.2 499.1 503.5C501.4 505.8 503.8 508.6 505.8 512C507.8 515.4 509.8 520.1 510.9 523.8C512 527.4 512.8 531.1 512.6 533.9C512.5 536.7 511.3 539.2 510 540.7C508.7 542.2 505.8 542.8 505 543.2" fill="none"/>
<path d="M472 510.5 L477.1 506 L479.6 501" fill="none"/>
<path d="M476.3 553.3C478.2 552.4 484.1 549.5 488 548C491.9 546.5 497.1 544.9 499.9 544.1C502.7 543.3 504.1 543.4 505 543.2" fill="none"/>
<path d="M490.6 498.4 L553.8 461.2" fill="none"/>
<path d="M577.5 475C578.2 476.8 581.2 482.3 581.5 486C581.8 489.7 580.6 494.2 579 497C577.4 499.8 574.3 501.5 572 503C569.7 504.5 566.2 505.5 565 506" fill="none"/>
<path d="M512.6 533.9 L564 507" fill="none"/>
<path d="M555 492 L564.6 490 L564.6 509 L555 511Z" fill="none"/>
<ellipse cx="569" cy="503" rx="1" ry="1.5" fill="none"/>
<path d="M296.2 597.5C296.2 589.2 299 584.6 302.5 580C306 575.4 312.1 571.2 317.5 570C322.9 568.8 329.6 569.6 335 572.5C340.4 575.4 345.8 580.4 350 587.5C354.2 594.6 359.2 606.7 360 615C360.8 623.3 358.3 632.1 355 637.5C351.7 642.9 345.8 646.2 340 647.5C334.2 648.8 326.2 647.9 320 645C313.8 642.1 306.5 637.9 302.5 630C298.5 622.1 296.2 605.8 296.2 597.5Z" fill="none"/>
<path d="M300 598C300.1 590.3 302.4 586.1 305.5 582C308.6 577.9 313.8 574.5 318.5 573.5C323.2 572.5 329.2 573.2 334 576C338.8 578.8 343.8 583.5 347.5 590C351.2 596.5 355.8 607.5 356.5 615C357.2 622.5 354.9 630.2 352 635C349.1 639.8 344.2 642.9 339 644C333.8 645.1 326.7 644.2 321 641.5C315.3 638.8 308.5 635.2 305 628C301.5 620.8 299.9 605.7 300 598Z" fill="none"/>
<path d="M310 612.5C310 607.7 312.5 600.8 315 597.5C317.5 594.2 321.5 592.5 325 592.5C328.5 592.5 333.5 594.2 336.2 597.5C339 600.8 341 607.1 341.2 612.5C341.5 617.9 339.8 626.7 337.5 630C335.2 633.3 331.2 633.1 327.5 632.5C323.8 631.9 317.9 629.6 315 626.2C312.1 622.9 310 617.3 310 612.5Z" fill="none"/>
<path d="M317.5 570C320.6 567.4 331 557.7 336.2 554.2C341.5 550.8 345.1 549.9 348.8 549.2C352.4 548.6 354.9 550.1 358.1 550.5C361.3 550.9 366.4 551.5 368.1 551.8" fill="none"/>
<path d="M340 647.5 L407.5 612.5" fill="none"/>
<path d="M396 536.5C398.4 538.5 405.9 543.9 410.1 548.4C414.3 552.9 418.3 558.2 421 563.6C423.7 569 425.3 575.8 426.4 581C427.5 586.2 427.9 591 427.5 595C427.1 599 425.9 602.5 424 605C422.1 607.5 418.8 608.8 416 610C413.2 611.2 408.9 612.1 407.5 612.5" fill="none"/>
<path d="M336.2 554.2C335.8 552.4 333.8 545.4 333.8 543C333.8 540.6 334.8 540.8 336.2 539.9C337.7 539 340.1 538 342.5 537.4C344.9 536.8 349.2 536.3 350.6 536.1" fill="none"/>
<path d="M350.6 536.1 L359.4 551.1" fill="none"/>
<path d="M359.4 535.5 L368.1 551.8 L396.2 536.1 L386.2 518.6 L368.1 523" fill="none"/>
<path d="M357.5 534.2 L385 520.5" fill="none"/>
<path d="M338.8 523 L346.2 535.5" fill="none"/>
<path d="M338.8 522.4C339.9 521.4 342.5 517.7 345.6 516.1C348.7 514.5 354.8 513.3 357.5 513C360.2 512.7 361.2 514 361.9 514.2" fill="none"/>
<path d="M353.8 516.8 L361.2 514.2 L368.1 527.4 L358.8 531.8 L353.8 516.8" fill="none"/>
<path d="M346.2 535.5 L358.8 531.8" fill="none"/>
<path d="M341 522 L348 534.5" fill="none" stroke-width="1"/>
<path d="M344 521 L351 533.5" fill="none" stroke-width="1"/>
<path d="M347 520 L354 532.5" fill="none" stroke-width="1"/>
<path d="M350 519 L357 532" fill="none" stroke-width="1"/>
<path d="M357.5 520 L362 519 L363.5 524 L359 525.5Z" fill="none" stroke-width="1.3"/>
<path d="M231.8 655.7C231.7 651.2 233.5 647.4 235.4 644.8C237.3 642.2 240.7 640.9 243.5 640.3C246.3 639.7 249.3 639.7 252.5 641.2C255.7 642.7 259.8 645.9 262.5 649.4C265.2 652.9 267.7 657.9 268.8 662C269.9 666.1 269.9 670.2 269.3 673.8C268.7 677.4 267.4 681.6 265.2 683.7C263 685.8 259.5 686.7 256.2 686.4C252.9 686.1 248.6 684.3 245.3 681.9C242 679.5 238.6 676.4 236.3 672C234.1 667.6 232 660.2 231.8 655.7Z" fill="none" stroke-width="2.2"/>
<path d="M235 656C234.9 651.9 236.5 648.7 238.2 646.5C239.9 644.3 242.5 643.2 245 642.8C247.5 642.3 250.2 642.3 253 643.8C255.8 645.2 259.2 648.4 261.5 651.5C263.8 654.6 265.6 658.9 266.5 662.5C267.4 666.1 267.4 669.8 266.8 673C266.2 676.2 264.8 679.7 263 681.5C261.2 683.3 258.8 683.9 256 683.6C253.2 683.3 249.4 681.6 246.5 679.5C243.6 677.4 240.4 674.9 238.5 671C236.6 667.1 235.1 660.1 235 656Z" fill="none" stroke-width="1.6"/>
<path d="M238.1 657.5C238.4 653.9 239.9 649.6 241.7 647.6C243.5 645.6 246.2 645.1 248.9 645.7C251.6 646.3 255.6 648.3 258 651.2C260.4 654.1 262.6 659 263.4 662.9C264.1 666.8 263.7 671.8 262.5 674.7C261.3 677.6 258.8 679.5 256.2 680.1C253.6 680.7 249.8 680.1 247.1 678.3C244.4 676.5 241.4 672.7 239.9 669.2C238.4 665.7 237.8 661.1 238.1 657.5Z" fill="none" stroke-width="1.1"/>
<path d="M241.7 633.1C243.7 631.9 249.6 627.4 253.5 625.8C257.4 624.2 261.8 623.4 265.2 623.6C268.6 623.8 271.2 624.8 274.2 626.8C277.2 628.8 280.4 632 283.3 635.8C286.2 639.6 289.6 645.3 291.4 649.4C293.2 653.5 294 656.6 294.1 660.2C294.2 663.8 293.5 668.1 292.3 671.1C291.1 674.1 289.6 676.5 286.9 678.3C284.2 680.1 279.1 681 276.1 681.9C273.1 682.8 270 683.4 268.8 683.7" fill="none" stroke-width="1.8"/>
<path d="M235.4 644.8 L241.7 633.1" fill="none" stroke-width="1.8"/>
<path d="M243.5 638C245.2 636.7 250.2 631.8 254 630C257.8 628.2 262.3 627.2 266 627.5C269.7 627.8 272.8 629.6 276 632C279.2 634.4 282.6 638 285 642C287.4 646 289.8 651.3 290.5 656C291.2 660.7 290.8 666.5 289.5 670C288.2 673.5 284.1 675.8 283 677" fill="none" stroke-width="1.5"/>
<path d="M255.3 630.4 L266.1 626.8 L270.6 635.8 L259.8 639.4Z" fill="none" stroke-width="2"/>
<path d="M264.3 640.3 L276.1 635.8 L281.5 644.8 L268.8 649.4Z" fill="none" stroke-width="2"/>
<path d="M272.4 651.2 L283.3 648.5 L286.9 657.5 L275.2 662Z" fill="none" stroke-width="2"/>
<path d="M274.2 665.6 L286.9 662 L288.7 670.2 L276.1 673.8Z" fill="none" stroke-width="2"/>
<path d="M271.5 676.5 L285.1 672.9 L283.3 680.1 L270.6 682.8Z" fill="none" stroke-width="2"/>
<path d="M246 636 L254 631" fill="none" stroke-width="2"/>
<path d="M251.5 660 L255 659" fill="none" stroke-width="1"/>
<g stroke="#3c3c3c" stroke-width="1.0">
<path d="M735.1 548.9C735.5 547.2 735.9 541.6 737.2 538.8C738.5 536 741.1 533.5 743 532.2C744.9 530.9 746.8 531 748.8 531.2C750.8 531.5 752.8 532.3 755.3 533.7C757.8 535.1 762.5 538.5 764 539.5" fill="none"/>
<path d="M735.8 549.6C739.9 551.8 754.1 558.1 760.4 562.7C766.7 567.3 770 574.1 773.4 577.1C776.8 580.1 779.5 580.2 780.7 580.8" fill="none"/>
<path d="M759.7 562.7C759.1 561.2 756.6 557.1 756.1 554C755.6 550.9 756 546.1 756.8 543.8C757.6 541.5 759.4 540.7 761.1 540.2C762.8 539.7 764.2 539.5 766.9 540.9C769.6 542.3 774.6 546.7 777.1 548.9C779.6 551.1 779.9 552.2 782.1 554C784.3 555.8 786.6 557.6 790.1 559.8C793.6 562 800.9 565.8 803.1 567" fill="none"/>
<path d="M764 559.8C763.3 558.6 760.4 554.9 759.7 552.5C759 550.1 759.2 547.1 759.7 545.3C760.2 543.5 761.4 542.2 762.6 541.7C763.8 541.2 764.9 541.2 766.9 542.4C768.9 543.6 772.2 546.6 774.9 548.9C777.5 551.2 779.7 553.5 782.8 556.1C785.9 558.8 791.9 563.3 793.7 564.8" fill="none"/>
<path d="M760.4 554 L776.3 575" fill="none"/>
<path d="M776.3 575 L794.4 564.8" fill="none"/>
<path d="M780.7 580.8 L803.9 567" fill="none"/>
<path d="M793.7 564.8 L803.9 567" fill="none"/>
<path d="M735.4 549.9C735.4 551.6 735.7 550.4 735.6 560C735.5 569.6 734.4 599 734.7 607.5C735 616 733.6 608.8 737.5 611.3C741.4 613.8 752.2 620.6 758.1 622.5C764 624.4 765.9 620.3 773.1 622.5C780.3 624.7 795.3 632.2 801.3 635.6C807.2 639 806 641.1 808.8 643.1C811.6 645.1 814.7 647.3 818.1 647.8C821.5 648.3 825.3 648 829.4 646C833.5 644 840.3 637.7 842.5 636" fill="none"/>
<path d="M735.6 551.3 L805 596.3" fill="none"/>
<path d="M737.5 611.3 L758 618" fill="none"/>
<path d="M764 539.5 L822.3 506.5" fill="none"/>
<path d="M822.2 504.7C822.9 503.4 825.2 500.2 826.5 497.1C827.8 494 827.6 489.5 829.8 486.3C832 483.1 836.6 479.4 839.5 478.1C842.4 476.8 843.6 477 847.1 478.7C850.6 480.4 856.2 485.2 860.2 488.5C864.2 491.8 866.3 493.5 871 498.2C875.7 502.9 882.7 512.2 888.4 516.7C894.1 521.2 900.9 523.3 905 525.5C909.1 527.7 910 527.4 913.1 529.7C916.2 532 920.9 535.5 923.9 539.3C926.9 543.1 929.8 548.8 931.2 552.6C932.6 556.4 932.2 559.6 932.4 562.2C932.6 564.8 933 566.3 932.4 568.3C931.8 570.3 930.4 572.7 928.8 574.3C927.2 575.9 923.7 577.3 922.7 577.9" fill="none"/>
<path d="M865.6 530.8C864.9 528.3 863.5 520.3 861.3 515.6C859.1 510.9 854.6 506.6 852.6 502.6C850.6 498.6 849.1 494.2 849.3 491.7C849.5 489.2 851.7 487.9 853.7 487.4C855.7 486.9 858.4 486.5 861.3 488.5C864.2 490.5 866.5 494.6 871 499.3C875.5 504 885.5 513.8 888.4 516.7" fill="none"/>
<path d="M863 530C862.2 527.5 860.5 519.5 858.5 515C856.5 510.5 852.8 506.8 851 503C849.2 499.2 847.3 494.8 847.5 492C847.7 489.2 851.2 487 852 486" fill="none"/>
<path d="M822.2 505.8 L865.6 530.3" fill="none"/>
<path d="M826.5 496 L855.8 509.1" fill="none"/>
<path d="M865.6 530.3 L888.4 517.8" fill="none"/>
<path d="M865.6 524.3 L885.1 513.4" fill="none"/>
<path d="M836.9 575.6 L912.3 533" fill="none"/>
<path d="M879.3 593.6 L932.4 563.4" fill="none"/>
<path d="M879.3 603.2 L922.7 577.9" fill="none"/>
<g transform="rotate(-25 801.6 527.6)">
<rect x="779" y="524" width="45" height="7.5" rx="3.7" fill="none" stroke="#222" stroke-width="1.6"/>
<path d="M784 527.6h36" stroke="#222" stroke-width="2.6" stroke-dasharray="3 1.8"/>
</g>
<ellipse cx="818" cy="539.6" rx="14.7" ry="8.1" fill="none"/>
<ellipse cx="816.9" cy="541.8" rx="10.9" ry="5.4" fill="none"/>
<path d="M814.6 606C813.8 605.3 810.9 603.8 809.5 601.9C808.1 600 806.8 597.2 806.4 594.7C806 592.2 806.3 589.4 807 587C807.7 584.6 809.2 582.3 810.5 580.4C811.8 578.5 813.3 576.7 815 575.5C816.7 574.3 818.5 573.7 820.8 573.2C823.1 572.7 826.8 571.9 829 572.7C831.2 573.6 832.9 576.7 834.1 578.3C835.3 579.9 835.9 581.7 836.2 582.4" fill="none"/>
<path d="M813 602C812.5 600.8 810.4 597.5 810 595C809.6 592.5 809.8 589.5 810.5 587C811.2 584.5 812.3 581.8 814 580C815.7 578.2 818.5 576.8 820.8 576C823.1 575.2 826 574.9 828 575.5C830 576.1 832.2 578.8 833 579.5" fill="none"/>
<path d="M816 582 L824 580 L826 587 L818 589Z" fill="none"/>
<path d="M827 580 L834 579 L835 586 L828 587Z" fill="none"/>
<path d="M816 592 L824 590 L825 598 L818 600Z" fill="none"/>
<path d="M827 590 L834 588 L835 595 L828 597Z" fill="none"/>
<path d="M837.2 575.3C839.6 575.5 846.4 575.1 851.5 576.3C856.6 577.5 863.9 580 868 582.4C872.1 584.8 874.3 588 876.2 590.6C878.1 593.2 878.9 594.7 879.2 597.8C879.5 600.9 878.9 606 878.2 609.1C877.5 612.2 875.6 615.1 875.1 616.3" fill="none"/>
<path d="M837.2 575.3C836.9 576.3 835.5 575.9 835.1 581.4C834.8 586.9 834.6 601.3 835.1 608.1C835.6 614.9 837.7 620 838.2 622.4" fill="none"/>
<path d="M843.3 618.3C843.5 613 845 603.6 847.4 598.8C849.8 594 853.8 591.5 857.7 589.6C861.6 587.7 867.8 586.4 871 587.6C874.2 588.8 876.3 592.5 877.2 596.8C878.1 601.1 877.8 607.9 876.2 613.2C874.7 618.5 871.3 625.2 867.9 628.6C864.5 632 859.2 633.4 855.6 633.7C852 634 848.5 633.2 846.4 630.6C844.3 628 843.1 623.6 843.3 618.3Z" fill="none"/>
<path d="M840.3 618.3C841 613.5 842.8 602.9 845.4 597.8C848 592.7 851.5 589.6 855.6 587.6C859.7 585.6 866.2 584.3 870 585.5C873.8 586.7 876.7 590.6 878.2 594.7C879.7 598.8 880.2 604.6 879.2 610.1C878.2 615.6 875.2 623.3 872 627.6C868.8 631.9 863.8 634.6 859.7 635.8C855.6 637 850.5 636.2 847.4 634.7C844.3 633.2 842.5 629.2 841.3 626.5C840.1 623.8 839.6 623.1 840.3 618.3Z" fill="none" stroke-width="0.8"/>
<path d="M800.3 624.5C800.6 621.1 803.3 615.7 805.4 614.2C807.5 612.7 810 613.6 812.6 615.3C815.2 617 818.8 620.9 820.8 624.5C822.8 628.1 824.9 633.2 824.9 636.8C824.9 640.4 822.8 644.6 820.8 646C818.8 647.4 815.5 646.9 812.6 645C809.7 643.1 805.3 638.1 803.3 634.7C801.2 631.3 799.9 627.9 800.3 624.5Z" fill="none"/>
<path d="M821.8 620.4 L834.1 615.3" fill="none"/>
<path d="M824.9 628.6 L837.2 623.5" fill="none"/>
<path d="M825.9 636.8 L839.2 631.7" fill="none"/>
<path d="M834.1 614.2 L835.1 622.4" fill="none"/>
<path d="M838.2 614.2 L840.3 632.7" fill="none"/>
<path d="M820.8 646 L840 637" fill="none"/>
<ellipse cx="771.3" cy="606.6" rx="10.3" ry="12.2" fill="none" stroke-width="1.4" transform="rotate(15 771.3 606.6)"/>
<path d="M765 603 L777 598" fill="none" stroke-width="1.2"/>
<path d="M764 609 L778 604" fill="none" stroke-width="1.2"/>
<path d="M766 614 L779 609" fill="none" stroke-width="1.2"/>
</g>
<path d="M682.5 248.8 L837.6 344.5" fill="none"/>
<path d="M865.9 376.5 L913.4 538.4" fill="none"/>
<path d="M116 506 L185 734.5" fill="none"/>
<path d="M221 749 L754.4 601" fill="none"/>
<path d="M605.3 300.5 L605.3 331.4" fill="none"/>
<path d="M605.3 334.3 L605.3 339.1" fill="none"/>
<path d="M605.3 342.7 L605.3 372.9" fill="none"/>
<path d="M370.6 439 L395.5 439" fill="none"/>
<path d="M399.6 439 L407.6 439" fill="none"/>
<path d="M410.8 439 L443.8 439" fill="none"/>
<path d="M447.8 439 L454.2 439" fill="none"/>
<path d="M459 439 L492 439" fill="none"/>
<path d="M496 439 L502.5 439" fill="none"/>
<path d="M506.5 439 L536.5 439" fill="none"/>
<path d="M632.6 476.9 L652.3 487.5" fill="none"/>
<path d="M654.6 489 L660.7 492" fill="none"/>
<path d="M665.2 494.3 L699.4 513.3" fill="none"/>
<path d="M702.4 514.8 L707.7 517.8" fill="none"/>
<path d="M711.5 520.1 L738 536.8" fill="none"/>
<path d="M669.3 455.8 L700 472.5" fill="none"/>
<path d="M714.5 481.4 L738.8 495.1" fill="none"/>
<path d="M744.9 498.1 L750.9 502" fill="none"/>
<path d="M755.5 505 L788.1 523.9" fill="none"/>
<path d="M473 533 L453.4 543.9" fill="none"/>
<path d="M449.1 546.4 L444.8 549" fill="none"/>
<path d="M440.4 551.9 L421.9 561.6" fill="none"/>
<path d="M330.7 615.6 L292.6 637.3" fill="none"/>
<path d="M249.7 661.9 L255.4 659.5" fill="none"/>
<g stroke="none">
<text class="lbl" x="453.5" y="164">6</text>
<text class="lbl" x="983.5" y="154.5">7</text>
<text class="lbl" x="211" y="286.5">6</text>
<text class="lbl" x="846" y="364">1</text>
<text class="lbl" x="697" y="379.5">10</text>
<text class="lbl" x="285" y="706">3</text>
<text class="lbl" x="189" y="757.5">1</text>
</g>
<g stroke="none">
<path d="M1120 816 L432 618" stroke="#f20d0d" stroke-width="4.5" stroke-linecap="butt"/>
<path d="M405 611.3 L434.4 609.4 L430 627.5 Z" fill="#f20d0d"/>
<circle cx="400" cy="645.6" r="13.8" fill="#e42d2d"/>
<text x="400.3" y="653.6" text-anchor="middle" style="font-family:'Liberation Sans',sans-serif;font-weight:bold;font-size:21.5px" fill="#fff">2</text>
</g>
</g>
</svg>
</body></html>
